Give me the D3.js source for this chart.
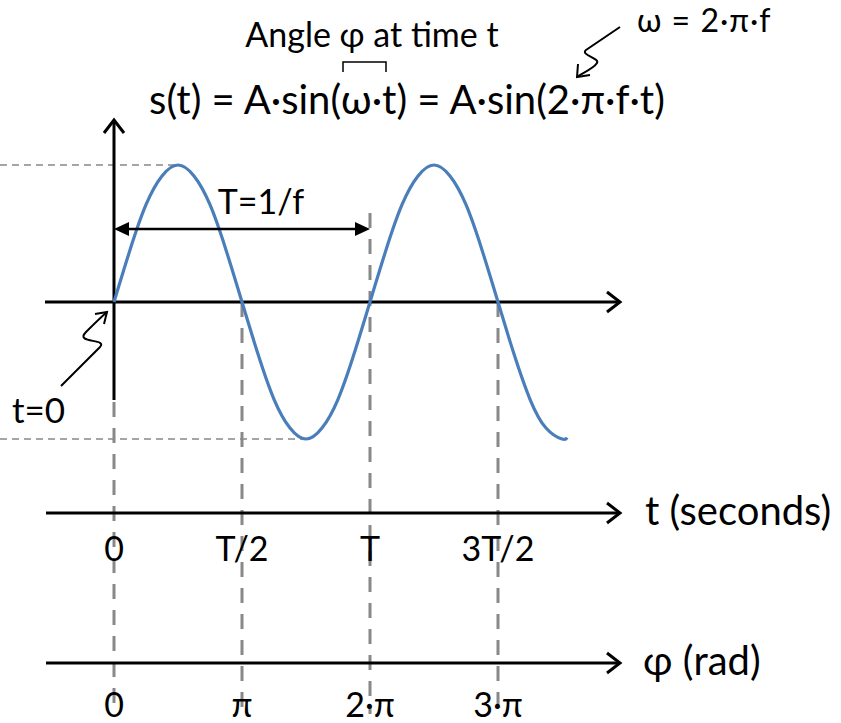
<!DOCTYPE html>
<html><head><meta charset="utf-8">
<script src="https://cdn.jsdelivr.net/npm/d3@7"></script>
<style>body{margin:0;background:#fff}svg{display:block}text{font-family:Lato,"Open Sans",sans-serif;fill:#000}</style>
</head><body>
<script>
// tick positions in periods (t/T)
const periods = [0, 0.5, 1, 1.5];
const timeLabels = ["0", "T/2", "T", "3T/2"];
const phaseLabels = ["0", "π", "2·π", "3·π"];
// wave samples: t in periods, s normalized by A
const waveT = [0,0.0625,0.125,0.1875,0.25,0.3125,0.375,0.4375,0.5,0.5625,0.625,0.6875,0.75,0.8125,0.875,0.9375,1,1.0625,1.125,1.1875,1.25,1.3125,1.375,1.4375,1.5,1.5625,1.625,1.6875,1.75,1.77];
const waveS = [0,0.38,0.71,0.92,1,0.92,0.71,0.38,0,-0.38,-0.71,-0.92,-1,-0.92,-0.71,-0.38,0,0.38,0.71,0.92,1,0.92,0.71,0.38,0,-0.38,-0.71,-0.92,-1,-0.99];

const W = 841, H = 723;
const svg = d3.select("body").append("svg").attr("width", W).attr("height", H);

const x = d3.scaleLinear().domain([0, 1]).range([114, 370]);
const y = d3.scaleLinear().domain([-1, 1]).range([439, 165]);
const y0 = y(0);
const tAxisY = 513, pAxisY = 663;
const grey = "#888";

// thin horizontal dashed guides at +A and -A
const peakT = waveT[waveS.indexOf(1)], troughT = waveT[waveS.indexOf(-1)];
svg.append("line").attr("x1", 0).attr("x2", x(peakT)).attr("y1", y(1)).attr("y2", y(1))
  .attr("stroke", grey).attr("stroke-width", 1.3).attr("stroke-dasharray", "7,5");
svg.append("line").attr("x1", 0).attr("x2", x(troughT)).attr("y1", y(-1)).attr("y2", y(-1))
  .attr("stroke", grey).attr("stroke-width", 1.3).attr("stroke-dasharray", "7,5");

// vertical dashed lines
const vStart = [402, y0, 213, y0];
periods.forEach((p, i) => {
  svg.append("line").attr("x1", x(p)).attr("x2", x(p)).attr("y1", vStart[i]).attr("y2", 714)
    .attr("stroke", grey).attr("stroke-width", 3).attr("stroke-dasharray", "15,11");
});

function hArrowAxis(yy, x1, x2) {
  svg.append("line").attr("x1", x1).attr("x2", x2 - 2).attr("y1", yy).attr("y2", yy)
    .attr("stroke", "#000").attr("stroke-width", 3);
  svg.append("path").attr("d", `M${x2 - 13},${yy - 10}L${x2},${yy}L${x2 - 13},${yy + 10}`)
    .attr("fill", "none").attr("stroke", "#000").attr("stroke-width", 3);
}
hArrowAxis(y0, 45, 620);
hArrowAxis(tAxisY, 46, 620);
hArrowAxis(pAxisY, 46, 620);

// vertical axis
svg.append("line").attr("x1", x(0)).attr("x2", x(0)).attr("y1", 400).attr("y2", 122)
  .attr("stroke", "#000").attr("stroke-width", 3);
svg.append("path").attr("d", `M${x(0) - 10},${133}L${x(0)},${120}L${x(0) + 10},${133}`)
  .attr("fill", "none").attr("stroke", "#000").attr("stroke-width", 3);

// sine wave
const pts = waveT.map((t, i) => [x(t), y(waveS[i])]);
svg.append("path").attr("d", d3.line().curve(d3.curveNatural)(pts))
  .attr("fill", "none").attr("stroke", "#4a7ebb").attr("stroke-width", 3.2);

// T=1/f double arrow
const ay = 229;
svg.append("line").attr("x1", x(0) + 12).attr("x2", x(1) - 12).attr("y1", ay).attr("y2", ay)
  .attr("stroke", "#000").attr("stroke-width", 2.5);
svg.append("path").attr("d", `M${x(0)},${ay}L${x(0) + 15},${ay - 7}L${x(0) + 15},${ay + 7}Z`).attr("fill", "#000");
svg.append("path").attr("d", `M${x(1)},${ay}L${x(1) - 15},${ay - 7}L${x(1) - 15},${ay + 7}Z`).attr("fill", "#000");
svg.append("text").attr("x", 261).attr("y", 214).attr("text-anchor", "middle")
  .attr("font-size", 34).text("T=1/f");

// t=0 annotation
const ox = x(0), oy = y0;
svg.append("path").attr("d", `M${ox - 53},${oy + 84} L${ox - 14},${oy + 45} C${ox - 6},${oy + 36} ${ox - 40},${oy + 42} ${ox - 28},${oy + 30} C${ox - 20},${oy + 22} ${ox - 14},${oy + 16} ${ox - 7},${oy + 10}`)
  .attr("fill", "none").attr("stroke", "#000").attr("stroke-width", 2);
svg.append("path").attr("d", `M${ox - 19},${oy + 12} L${ox - 7},${oy + 10} L${ox - 10},${oy + 22}`)
  .attr("fill", "none").attr("stroke", "#000").attr("stroke-width", 2);
svg.append("text").attr("x", 12).attr("y", 423).attr("font-size", 35).text("t=0");

// axis labels
periods.forEach((p, i) => {
  svg.append("text").attr("x", x(p)).attr("y", 561).attr("text-anchor", "middle")
    .attr("font-size", 34).text(timeLabels[i]);
  svg.append("text").attr("x", x(p)).attr("y", 717).attr("text-anchor", "middle")
    .attr("font-size", 34).text(phaseLabels[i]);
});
svg.append("text").attr("x", 645).attr("y", 525).attr("font-size", 40).text("t (seconds)");
svg.append("text").attr("x", 643).attr("y", 675).attr("font-size", 40).text("φ (rad)");

// formula and annotations
svg.append("text").attr("x", 407).attr("y", 114).attr("text-anchor", "middle")
  .attr("font-size", 40).text("s(t) = A·sin(ω·t) = A·sin(2·π·f·t)");
svg.append("text").attr("x", 372).attr("y", 47).attr("text-anchor", "middle")
  .attr("font-size", 34).text("Angle φ at time t");
svg.append("path").attr("d", "M343,72V62H386V72").attr("fill", "none").attr("stroke", "#000").attr("stroke-width", 1.5);
svg.append("text").attr("x", 637).attr("y", 32).attr("font-size", 32).attr("letter-spacing", 1).text("ω = 2·π·f");
// omega squiggle arrow
svg.append("path").attr("d", "M620,27 L586,50 C580,55 600,58 597,63 C594,68 585,72 578,76")
  .attr("fill", "none").attr("stroke", "#000").attr("stroke-width", 2);
svg.append("path").attr("d", "M578,64 L577,77 L590,75").attr("fill", "none").attr("stroke", "#000").attr("stroke-width", 2);
</script>
</body></html>
